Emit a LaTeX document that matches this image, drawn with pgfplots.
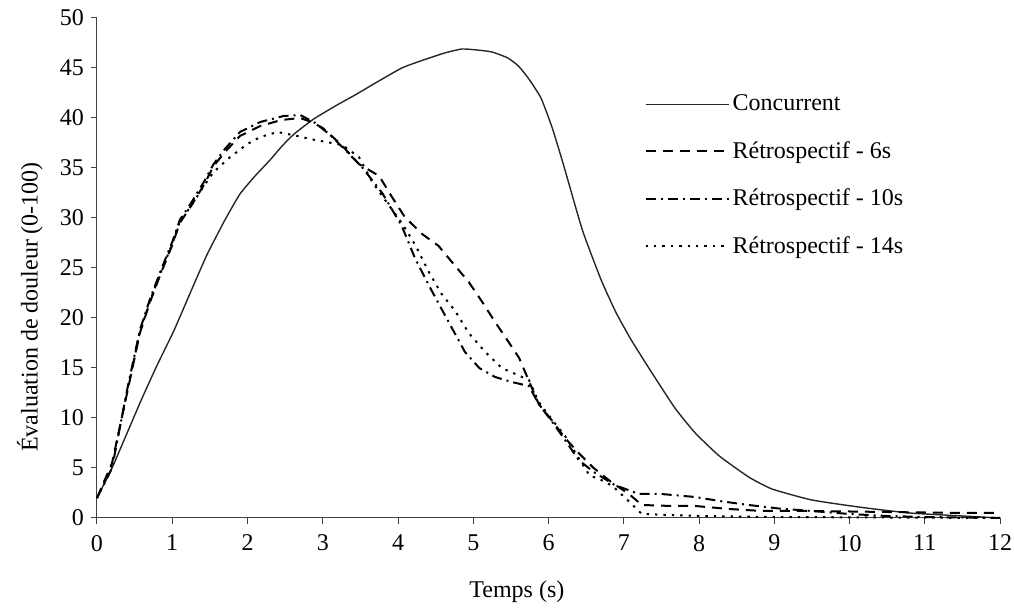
\documentclass[border=0pt]{standalone}
\usepackage{fontspec}
\setmainfont{Liberation Serif}
\usepackage{pgfplots}
\pgfplotsset{compat=1.18}
\begin{document}
\begin{tikzpicture}
\begin{axis}[
  name=ax,
  scale only axis,
  width=451.5pt, height=250pt,
  xmin=0, xmax=12, ymin=0, ymax=50,
  axis lines=left,
  axis line style={-, black!75, line width=0.5pt},
  xtick={0,1,...,12}, ytick={0,5,...,50},
  tick align=outside,
  major tick length=3pt,
  tick style={black!75, line width=0.5pt},
  /pgf/number format/assume math mode=true,
  tick label style={font=\fontsize{12}{14}\selectfont},
  xticklabel style={yshift=-2pt},
  label style={font=\fontsize{12}{14}\selectfont},
  xlabel={Temps (s)},
  ylabel={Évaluation de douleur (0-100)},
  xlabel style={at={(axis description cs:0.465,0)}, anchor=north, yshift=-28pt},
  ylabel style={at={(axis description cs:-0.0742,0.422)}, anchor=center},
  legend cell align=left,
  legend style={at={(axis description cs:0.606,0.853)}, anchor=north west,
    draw=none, fill=none, font=\fontsize{12}{14}\selectfont,
    row sep=10.8pt, inner sep=0pt, nodes={inner sep=1.5pt}},
  legend image code/.code={\draw[#1] (0pt,0pt) -- (41.5pt,0pt);},
  clip=false,
]
% Concurrent rating
\addplot[black!85, line width=0.7pt, smooth, tension=0.3] coordinates {
 (0,2) (0.2,5) (0.4,8.5) (0.6,12) (0.8,15.3) (1.02,18.7) (1.25,22.7) (1.46,26.3)
 (1.7,29.8) (1.9,32.4) (2.1,34.2) (2.3,35.8) (2.46,37.2) (2.62,38.4) (2.88,39.9)
 (3.19,41.3) (3.43,42.3) (3.7,43.5) (4.05,45.0) (4.3,45.7) (4.62,46.5) (4.85,46.9)
 (5.05,46.8) (5.25,46.6) (5.46,46.0) (5.6,45.2) (5.73,44.0) (5.9,42.0) (6.05,39.0)
 (6.2,35.3) (6.45,28.8) (6.7,23.8) (6.9,20.5) (7.1,17.8) (7.35,14.8) (7.68,11.0)
 (7.95,8.5) (8.27,6.2) (8.66,4.1) (8.97,2.9) (9.5,1.8) (10.17,1.05) (10.8,0.5)
 (11.5,0.2) (12,0)
};
\addlegendentry{Concurrent}
% Retrospective rating, 6 s
\addplot[black, line width=1pt, dash pattern=on 5pt off 3.5pt] coordinates {
 (0,2) (0.2,5.5) (0.4,12.5) (0.57,18.5) (0.7,21.5) (0.85,24.5) (1.0,27.3) (1.1,29.5)
 (1.25,31.2) (1.42,33.3) (1.55,35.2) (1.7,36.6) (1.9,38.2) (2.17,39.2) (2.45,39.8)
 (2.7,40.0) (2.85,39.6) (3.0,39.0) (3.25,37.3) (3.48,35.4) (3.75,34.2) (3.92,32.1)
 (4.09,30.1) (4.32,28.4) (4.54,27.2) (4.76,25.2) (4.94,23.6) (5.12,21.6) (5.29,19.6)
 (5.47,17.6) (5.61,16.0) (5.74,13.7) (5.87,11.4) (6.05,9.7) (6.22,8.0) (6.4,6.5)
 (6.6,5.0) (6.85,3.5) (7.07,2.4) (7.24,1.3) (7.64,1.2) (7.95,1.2) (8.4,0.9)
 (8.84,0.7) (9.5,0.7) (10.5,0.6) (11.5,0.5) (12,0.5)
};
\addlegendentry{Rétrospectif - 6s}
% Retrospective rating, 10 s
\addplot[black, line width=1pt, dash pattern=on 5pt off 2.5pt on 1pt off 2.5pt] coordinates {
 (0,2) (0.2,5) (0.4,12.8) (0.57,18.8) (0.7,21.8) (0.85,24.8) (1.0,27.6) (1.1,29.8)
 (1.25,31.5) (1.42,33.6) (1.55,35.4) (1.7,36.9) (1.9,38.6) (2.17,39.6) (2.48,40.2)
 (2.7,40.3) (2.9,39.5) (3.1,38.3) (3.3,36.8) (3.52,35.1) (3.79,32.5) (4.05,29.2)
 (4.23,25.9) (4.45,22.7) (4.68,19.5) (4.89,16.6) (5.08,15.0) (5.29,14.1) (5.51,13.6)
 (5.74,13.2) (5.87,11.4) (6.05,9.6) (6.22,7.8) (6.4,5.8) (6.6,4.6) (6.88,3.3)
 (7.2,2.4) (7.5,2.4) (7.95,2.1) (8.27,1.7) (8.66,1.3) (9.06,0.95) (9.5,0.7)
 (10,0.4) (10.5,0.2) (11,0.1) (12,0)
};
\addlegendentry{Rétrospectif - 10s}
% Retrospective rating, 14 s
\addplot[black, line width=1pt, dash pattern=on 1.2pt off 3pt] coordinates {
 (0,2) (0.2,5.3) (0.4,12.6) (0.57,18.6) (0.7,21.6) (0.85,24.6) (1.0,27.4) (1.1,29.6)
 (1.25,31.2) (1.42,33.2) (1.55,34.6) (1.77,36.1) (2.0,37.4) (2.17,38.1) (2.4,38.6)
 (2.66,38.2) (2.9,37.8) (3.26,37.3) (3.48,36.1) (3.65,33.7) (3.79,32.2) (4.05,29.5)
 (4.23,27.3) (4.41,24.6) (4.58,22.4) (4.76,20.7) (4.94,18.5) (5.16,16.6) (5.38,15.0)
 (5.56,14.4) (5.74,13.8) (5.87,11.6) (6.05,9.8) (6.22,8.2) (6.4,6.0) (6.55,4.2)
 (6.65,4.0) (6.85,3.2) (7.05,1.8) (7.24,0.4) (8,0.2) (9,0.1) (12,0)
};
\addlegendentry{Rétrospectif - 14s}
\end{axis}
\pgfresetboundingbox
\path[use as bounding box] ([xshift=-48.5pt,yshift=-45.5pt]ax.south west)
  rectangle ([xshift=7pt,yshift=9pt]ax.north east);
\end{tikzpicture}
\end{document}
